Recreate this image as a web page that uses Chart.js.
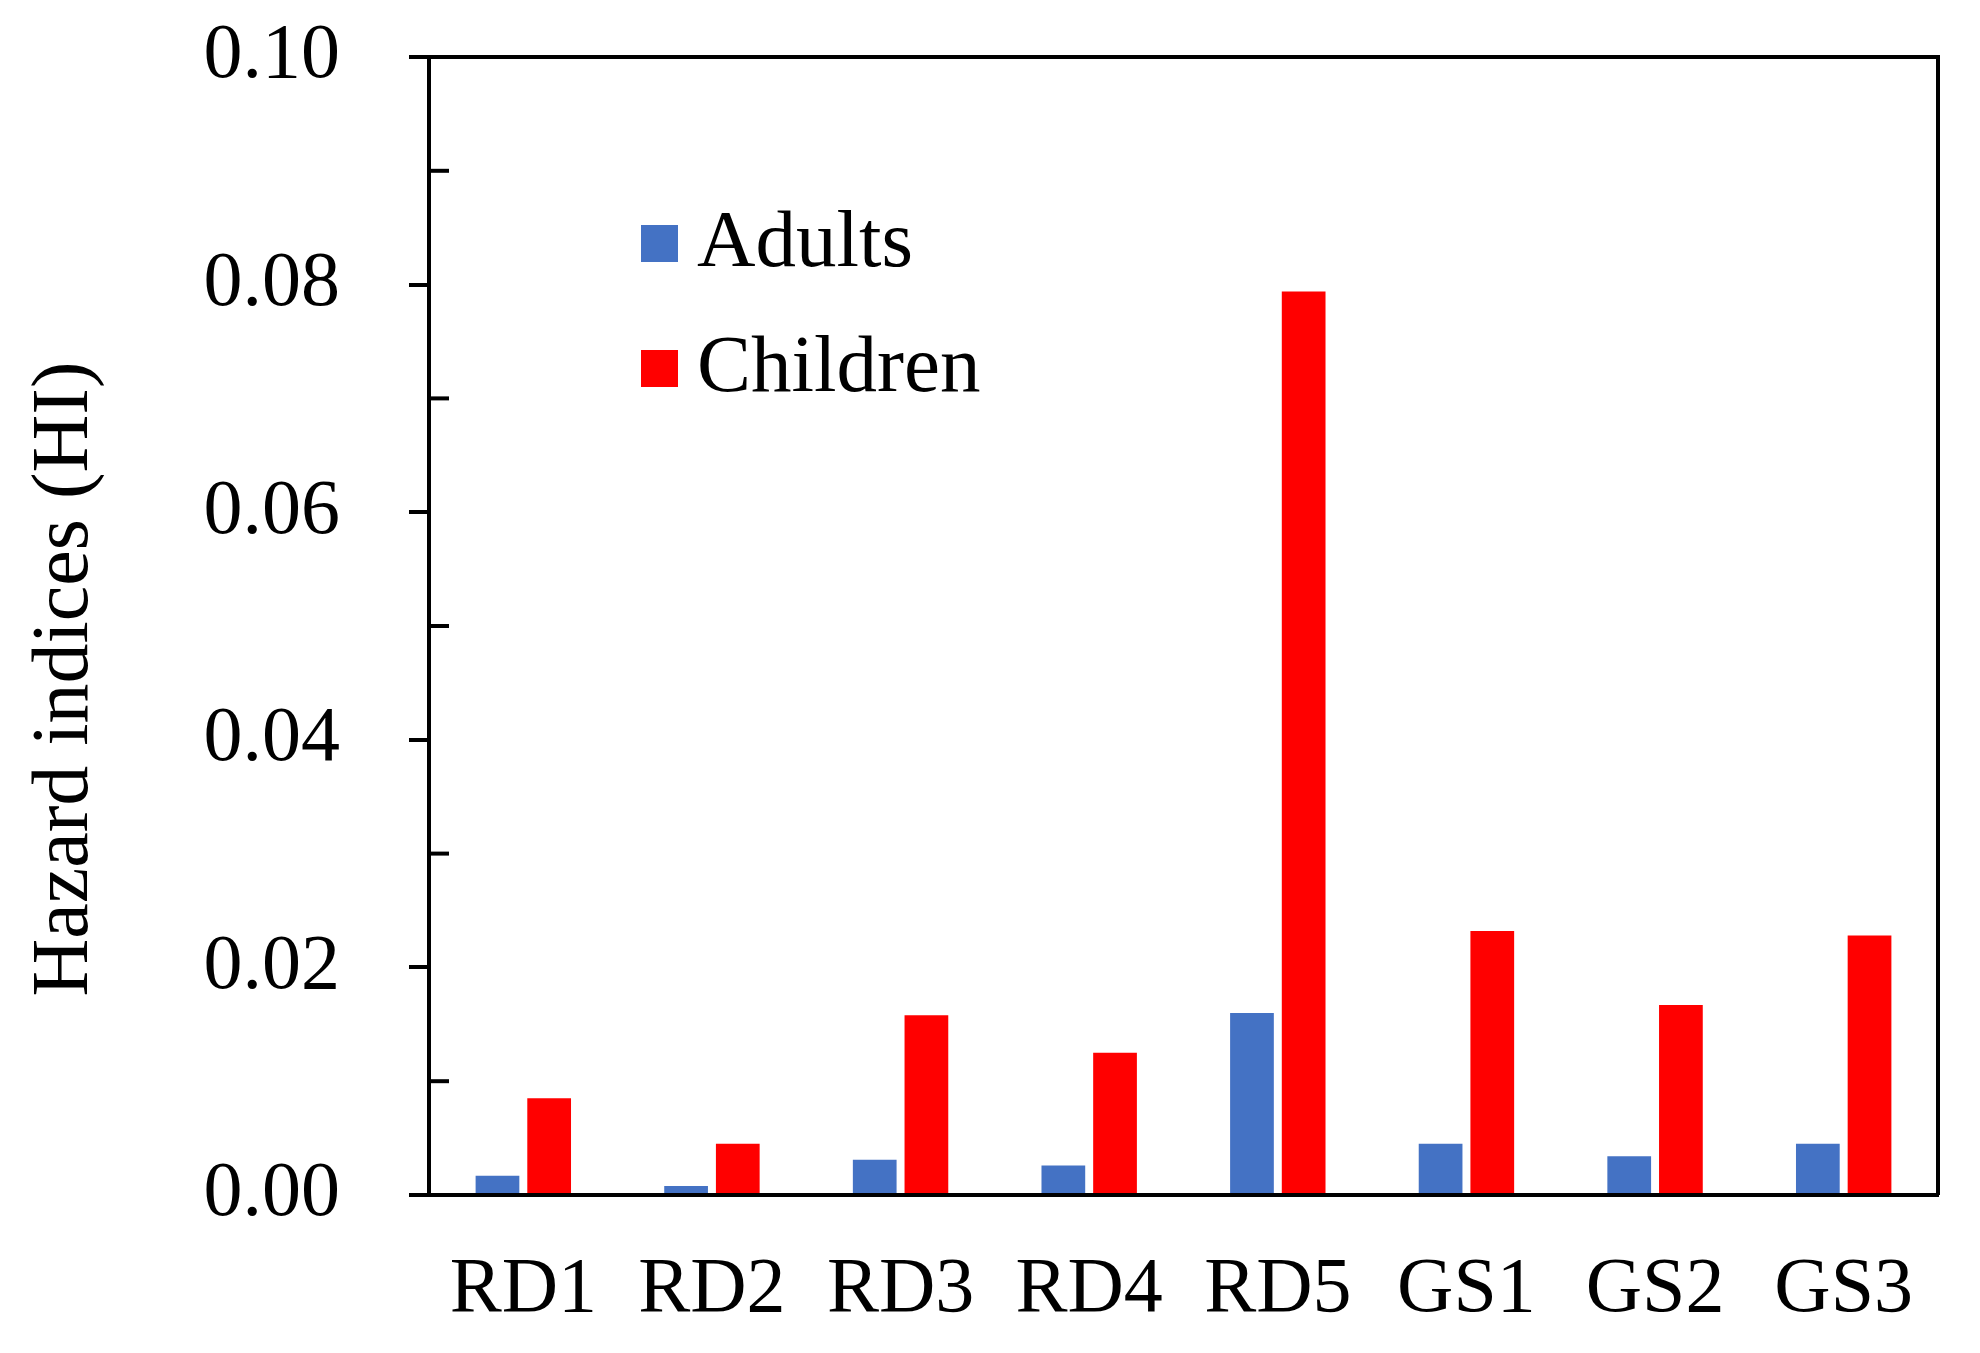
<!DOCTYPE html>
<html>
<head>
<meta charset="utf-8">
<script src="https://cdn.jsdelivr.net/npm/chart.js@4/dist/chart.umd.min.js"></script>
<style>
  html, body { margin: 0; padding: 0; background: #ffffff; }
  #wrap { width: 1980px; height: 1353px; }
</style>
</head>
<body>
<div id="wrap"><canvas id="c" width="1980" height="1353"></canvas></div>
<script>
// ---- data ----
const categories = ["RD1", "RD2", "RD3", "RD4", "RD5", "GS1", "GS2", "GS3"];
const adultsHI   = [0.0017, 0.0008, 0.0031, 0.0026, 0.0160, 0.0045, 0.0034, 0.0045];
const childrenHI = [0.0085, 0.0045, 0.0158, 0.0125, 0.0794, 0.0232, 0.0167, 0.0228];
const seriesNames = ["Adults", "Children"];
const yTicks = [0.00, 0.02, 0.04, 0.06, 0.08, 0.10];
const yMinorTicks = [0.01, 0.03, 0.05, 0.07, 0.09];
const yAxisTitle = "Hazard indices (HI)";

const FONT = "'Liberation Serif', 'Times New Roman', serif";
const FS = 78;
const FS_TITLE = 80;
const FS_LEGEND = 81;

const framePlugin = {
  id: 'frame',
  afterDraw(chart) {
    const ctx = chart.ctx;
    const a = chart.chartArea;
    const y = chart.scales.y;
    ctx.save();
    ctx.strokeStyle = '#000';
    ctx.lineWidth = 4;
    ctx.beginPath();
    ctx.moveTo(a.left, a.top);
    ctx.lineTo(a.right, a.top);
    ctx.lineTo(a.right, a.bottom);
    ctx.stroke();
    yMinorTicks.forEach(v => {
      const py = y.getPixelForValue(v);
      ctx.beginPath();
      ctx.moveTo(a.left, py);
      ctx.lineTo(a.left + 20, py);
      ctx.stroke();
    });
    ctx.fillStyle = '#000';
    ctx.font = FS_TITLE + 'px ' + FONT;
    ctx.textAlign = 'center';
    ctx.textBaseline = 'middle';
    ctx.translate(66, 679);
    ctx.rotate(-Math.PI / 2);
    ctx.fillText(yAxisTitle, 0, 0);
    ctx.restore();

    ctx.save();
    ctx.font = FS_LEGEND + 'px ' + FONT;
    ctx.textAlign = 'left';
    ctx.textBaseline = 'middle';
    const centers = [243, 368];
    chart.data.datasets.forEach((ds, i) => {
      ctx.fillStyle = ds.backgroundColor;
      ctx.fillRect(641, centers[i] - 18, 37, 37);
      ctx.fillStyle = '#000';
      ctx.fillText(ds.label, 697, centers[i] + 2);
    });
    ctx.restore();
  }
};

new Chart(document.getElementById('c'), {
  type: 'bar',
  data: {
    labels: categories,
    datasets: [
      { label: seriesNames[0], data: adultsHI, backgroundColor: '#4472C4' },
      { label: seriesNames[1], data: childrenHI, backgroundColor: '#FF0000' }
    ]
  },
  options: {
    responsive: false,
    devicePixelRatio: 1,
    animation: false,
    layout: { padding: { top: 57, right: 42, left: 0, bottom: 0 } },
    datasets: { bar: { categoryPercentage: 0.548, barPercentage: 0.846 } },
    plugins: { legend: { display: false }, tooltip: { enabled: false } },
    scales: {
      x: {
        grid: { display: true, drawOnChartArea: false, drawTicks: false },
        border: { display: true, color: '#000', width: 4 },
        ticks: { color: '#000', font: { family: FONT, size: FS }, padding: 49, maxRotation: 0 },
        afterFit(s) { s.height = 158; s.paddingLeft = 0; s.paddingRight = 0; }
      },
      y: {
        min: 0, max: 0.1,
        afterBuildTicks(s) { s.ticks = yTicks.map(v => ({ value: v })); },
        grid: { drawOnChartArea: false, drawTicks: true, tickLength: 20, color: '#000', lineWidth: 4 },
        border: { display: true, color: '#000', width: 4 },
        ticks: {
          color: '#000', font: { family: FONT, size: FS }, padding: 69,
          callback: v => Number(v).toFixed(2)
        },
        afterFit(s) { s.width = 429; s.paddingTop = 0; s.paddingBottom = 0; }
      }
    }
  },
  plugins: [framePlugin]
});
</script>
</body>
</html>
